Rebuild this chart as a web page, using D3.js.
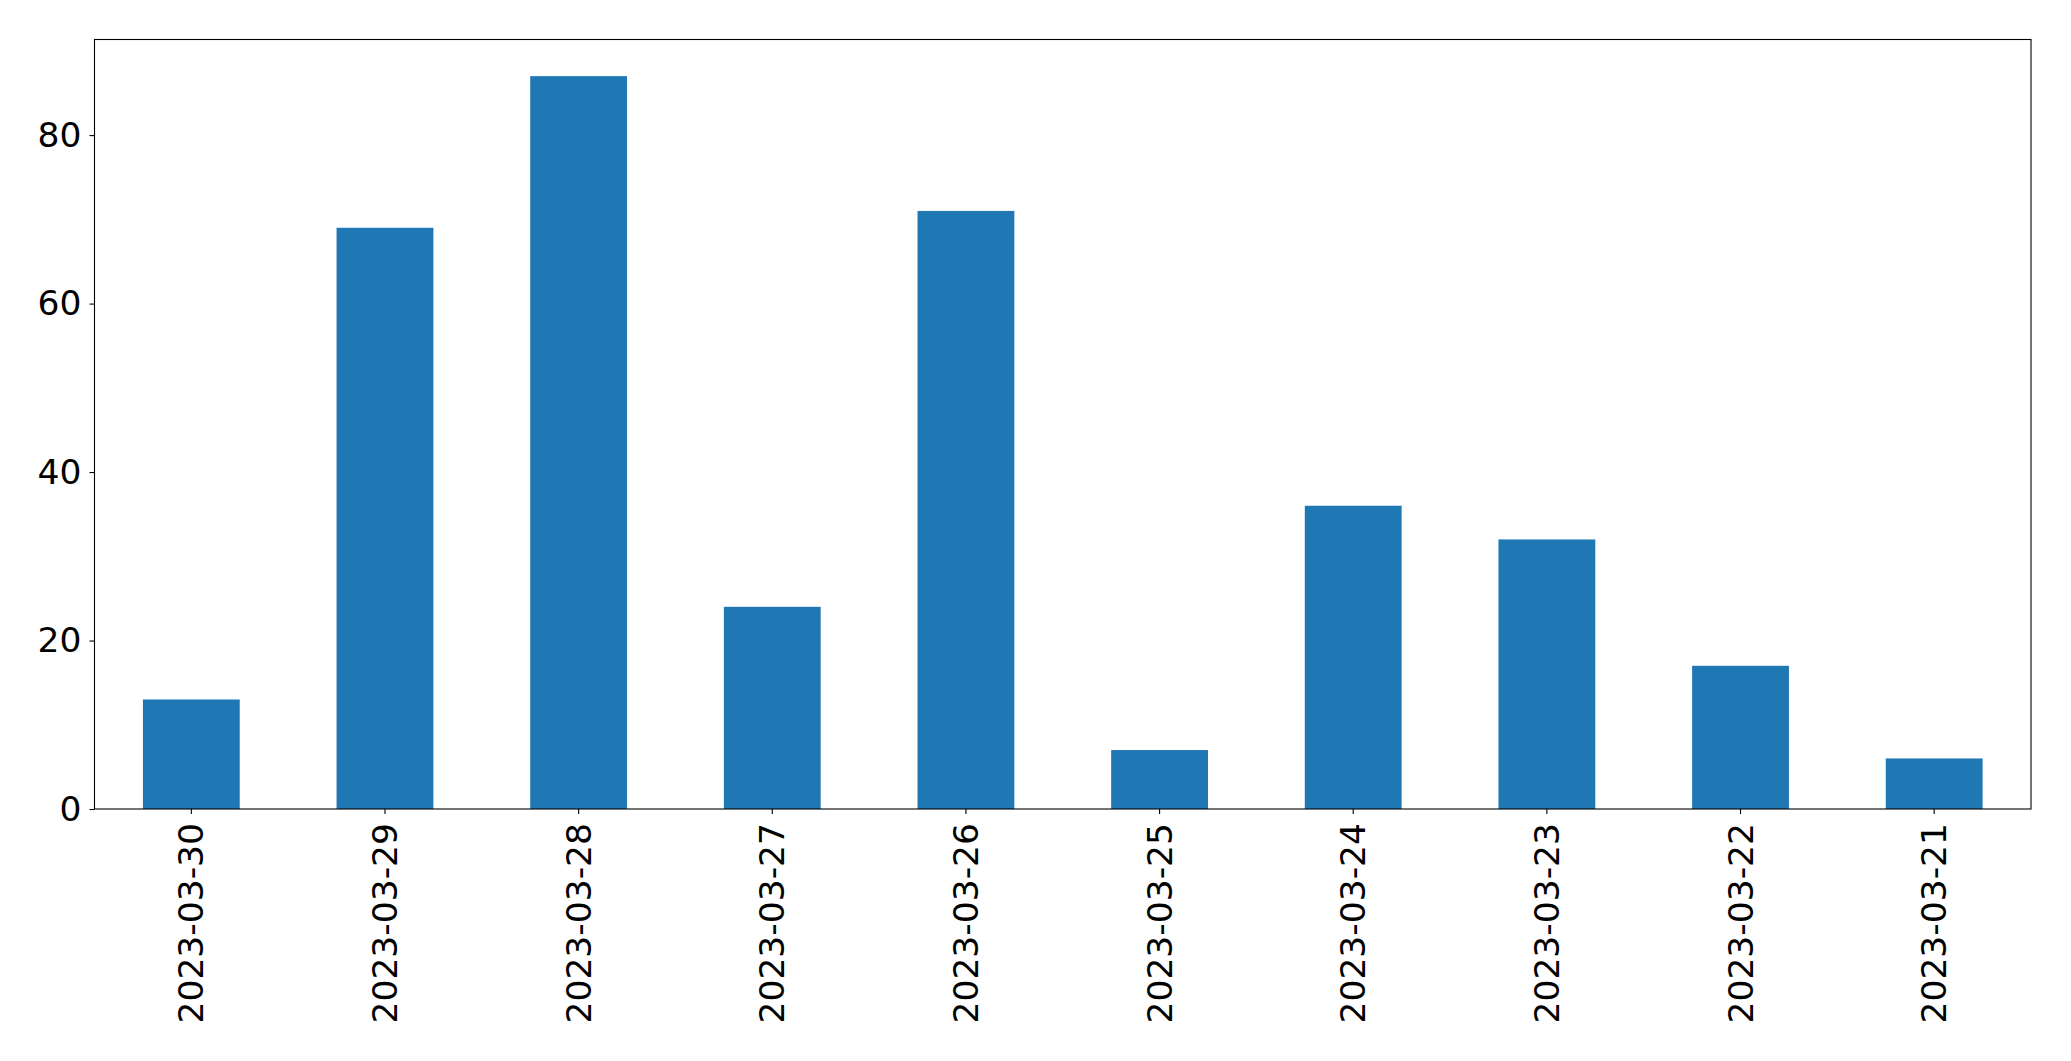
<!DOCTYPE html>
<html>
<head>
<meta charset="utf-8">
<script src="https://cdn.jsdelivr.net/npm/d3@7"></script>
<style>
  html, body { margin: 0; padding: 0; background: #fff; }
  svg { display: block; }
</style>
</head>
<body>
<svg id="chart" width="2071" height="1061"></svg>
<script>
const categories = ["2023-03-30","2023-03-29","2023-03-28","2023-03-27","2023-03-26","2023-03-25","2023-03-24","2023-03-23","2023-03-22","2023-03-21"];
const values = [13, 69, 87, 24, 71, 7, 36, 32, 17, 6];
const yTicks = [0, 20, 40, 60, 80];

const W = 2071, H = 1061;
const margin = {left: 94.5, right: 40, top: 39.5, bottom: 252};
const svg = d3.select("#chart");
const fontFamily = "'DejaVu Sans', sans-serif";
const fontSize = 34.5;

const x = d3.scaleBand().domain(categories).range([margin.left, W - margin.right]).paddingInner(0.5).paddingOuter(0.25);
const yMax = d3.max(values) * 1.05;
const y = d3.scaleLinear().domain([0, yMax]).range([H - margin.bottom, margin.top]);

// bars
svg.append("g").selectAll("rect").data(values).join("rect")
  .attr("x", (d, i) => x(categories[i]))
  .attr("y", d => y(d))
  .attr("width", x.bandwidth())
  .attr("height", d => y(0) - y(d))
  .attr("fill", "#1f77b4");

// y axis
const yAxis = d3.axisLeft(y).tickValues(yTicks).tickSize(5).tickPadding(8).tickFormat(d3.format("d"));
const gy = svg.append("g").attr("transform", `translate(${margin.left},0)`).call(yAxis);
gy.select(".domain").remove();
gy.selectAll("line").attr("stroke", "#000").attr("stroke-width", 1.1);
gy.selectAll("text").attr("font-family", fontFamily).attr("font-size", fontSize).attr("fill", "#000");

// x axis
const xAxis = d3.axisBottom(x).tickSize(5).tickPadding(0);
const gx = svg.append("g").attr("transform", `translate(0,${H - margin.bottom})`).call(xAxis);
gx.select(".domain").remove();
gx.selectAll("line").attr("stroke", "#000").attr("stroke-width", 1.1);
gx.selectAll("text")
  .attr("font-family", fontFamily).attr("font-size", fontSize).attr("fill", "#000")
  .attr("text-anchor", "end")
  .attr("dy", "0.35em")
  .attr("transform", "translate(0,14) rotate(-90)")
  .attr("x", 0).attr("y", 0);

// frame
svg.append("rect")
  .attr("x", margin.left).attr("y", margin.top)
  .attr("width", W - margin.right - margin.left)
  .attr("height", H - margin.bottom - margin.top)
  .attr("fill", "none").attr("stroke", "#000").attr("stroke-width", 1.1);
</script>
</body>
</html>
